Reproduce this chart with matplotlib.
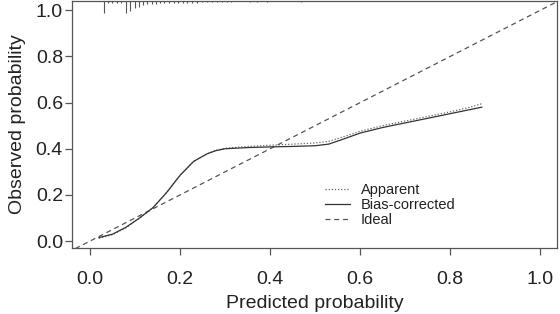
import matplotlib
matplotlib.use('Agg')
import matplotlib.pyplot as plt
import matplotlib.transforms as mtransforms

plt.rcParams['font.family'] = ['Liberation Sans', 'DejaVu Sans']

# calibration curves
x_bias = [0.02, 0.05, 0.08, 0.11, 0.14, 0.17, 0.20, 0.23, 0.26, 0.28, 0.30, 0.35,
          0.40, 0.45, 0.50, 0.53, 0.56, 0.60, 0.65, 0.70, 0.75, 0.80, 0.84, 0.87]
y_bias = [0.015, 0.03, 0.06, 0.10, 0.145, 0.21, 0.285, 0.345, 0.378, 0.392, 0.40, 0.405,
          0.408, 0.41, 0.413, 0.42, 0.44, 0.468, 0.492, 0.512, 0.532, 0.552, 0.568, 0.58]
x_app = [0.02, 0.05, 0.08, 0.11, 0.14, 0.17, 0.20, 0.23, 0.26, 0.28, 0.30, 0.35,
         0.40, 0.45, 0.50, 0.53, 0.56, 0.60, 0.65, 0.70, 0.75, 0.80, 0.84, 0.87]
y_app = [0.012, 0.028, 0.058, 0.10, 0.145, 0.21, 0.285, 0.345, 0.378, 0.393, 0.402, 0.41,
         0.415, 0.42, 0.425, 0.432, 0.45, 0.476, 0.50, 0.52, 0.54, 0.56, 0.578, 0.595]
ideal = [-0.05, 1.05]

# rug of predicted probabilities (relative frequency)
rug_x = [0.031, 0.041, 0.048, 0.059, 0.068, 0.080, 0.089, 0.099, 0.108, 0.117,
         0.126, 0.137, 0.147, 0.156, 0.165, 0.176, 0.186, 0.195, 0.206, 0.215,
         0.227, 0.237, 0.249, 0.260, 0.271, 0.282, 0.293, 0.304, 0.312, 0.356,
         0.371, 0.394, 0.468]
rug_f = [12, 2, 2, 2, 2, 12.5, 10, 7.5, 6, 4,
         3.5, 3, 3, 2.5, 2.5, 2.5, 2, 2, 2, 2,
         2, 2, 1.5, 1.5, 1.5, 1.5, 1.5, 1.5, 1.5, 1,
         1.5, 1, 1.5]

ticks = [0.0, 0.2, 0.4, 0.6, 0.8, 1.0]
tick_labels = ['0.0', '0.2', '0.4', '0.6', '0.8', '1.0']

txt = '#222222'
edge = '#555555'

fig = plt.figure(figsize=(5.6, 3.14), dpi=100)
ax = fig.add_axes([72 / 560, 66 / 314, 485 / 560, 247 / 314])

ax.plot(ideal, ideal, color='#555555', lw=0.9, ls=(0, (4, 3)), label='Ideal', zorder=2)
ax.plot(x_app, y_app, color='#666666', lw=0.9, ls=(0, (1, 1.5)), label='Apparent', zorder=3)
ax.plot(x_bias, y_bias, color='#333333', lw=0.9, ls='-', label='Bias-corrected', zorder=3)

trans = mtransforms.blended_transform_factory(ax.transData, ax.transAxes)
ax.vlines(rug_x, [1 - f / 247 for f in rug_f], 1, transform=trans,
          color='#555555', lw=0.8, zorder=4)

ax.set_xlim(-0.04, 1.037)
ax.set_ylim(-0.03, 1.04)
ax.set_xticks(ticks)
ax.set_xticklabels(tick_labels)
ax.set_yticks(ticks)
ax.set_yticklabels(tick_labels)

for s in ax.spines.values():
    s.set_color(edge)
    s.set_linewidth(0.9)
ax.tick_params(axis='x', length=5, width=0.9, color=edge, labelsize=14, labelcolor=txt, pad=11.5)
ax.tick_params(axis='y', length=5, width=0.9, color=edge, labelsize=14, labelcolor=txt, pad=1.5)

ax.set_xlabel('Predicted probability', fontsize=14, color=txt, labelpad=5)
ax.set_ylabel('Observed probability', fontsize=14, color=txt, labelpad=7)

handles, labels = ax.get_legend_handles_labels()
order = [1, 2, 0]
ax.legend([handles[i] for i in order], [labels[i] for i in order],
          loc='upper left', bbox_to_anchor=(0.522, 0.262), frameon=False,
          fontsize=10.5, handlelength=1.7, handletextpad=0.75, labelspacing=0.05,
          borderpad=0, borderaxespad=0, labelcolor=txt)

fig.savefig('out.png', dpi=100)
